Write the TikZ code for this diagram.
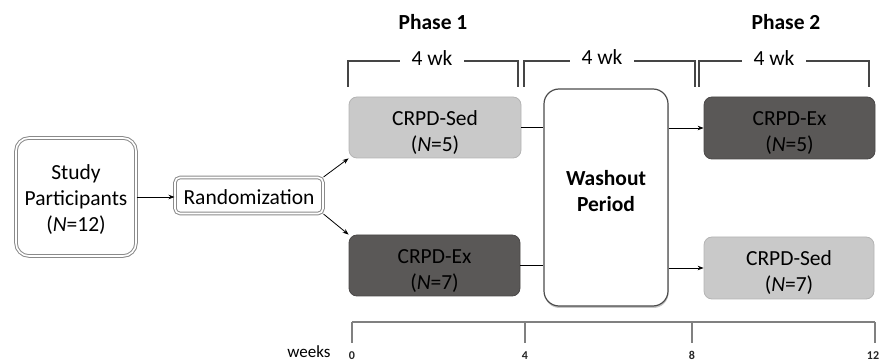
\documentclass[tikz,border=0pt]{standalone}
\usepackage{fontspec}
\setmainfont{Carlito}
\usetikzlibrary{arrows.meta,shadows}
\definecolor{lightbox}{HTML}{C9C9C9}
\definecolor{lightedge}{HTML}{B4B4B4}
\definecolor{darkbox}{HTML}{5A5857}
\definecolor{darkedge}{HTML}{4A4848}
\definecolor{frame}{HTML}{8A8A8A}
\definecolor{brk}{HTML}{454545}
\newcommand{\topstr}{\rule{0pt}{24pt}}
\newcommand{\botstr}{\rule[-14pt]{0pt}{1pt}}
\begin{document}
\begin{tikzpicture}[x=1pt,y=-1pt,
  txt/.style={font=\fontsize{21.5}{26}\selectfont, align=center},
  bevelbox/.style={txt, draw=frame, fill=white, double=white, double distance=1.6pt, line width=1pt,
     rounded corners=#1, inner sep=0pt, drop shadow={shadow xshift=1pt, shadow yshift=-1.5pt, opacity=0.35}},
  lightnode/.style={txt, fill=lightbox, draw=lightedge, line width=0.8pt, rounded corners=8pt, inner sep=0pt},
  darknode/.style={txt, fill=darkbox, draw=darkedge, line width=0.8pt, rounded corners=8pt, inner sep=0pt},
  conn/.style={line width=0.8pt, black},
  arr/.style={conn, -{Stealth[length=6pt,width=4.5pt]}},
  bracket/.style={draw=brk, line width=1.2pt},
  wklabel/.style={txt, fill=white, inner xsep=12pt, inner ysep=0pt},
  axis/.style={draw=gray, line width=1.1pt},
  ticklabel/.style={font=\fontsize{12}{14}\selectfont\bfseries, text=black!85}
]
\useasboundingbox (0,0) rectangle (886,363);

% main boxes
\node[bevelbox=13pt, minimum width=120pt, minimum height=118pt] (study) at (76,197)
  {\rule{0pt}{20pt}Study\\Participants\\(\textit{N}=12)};
\node[bevelbox=5pt, minimum width=148pt, minimum height=36pt] (rand) at (249,195.5) {\rule{0pt}{18pt}Randomization};

\node[lightnode, minimum width=172pt, minimum height=61pt] (sedA) at (435,127.5) {\topstr CRPD-Sed\\(\textit{N}=5)};
\node[darknode, minimum width=171pt, minimum height=61pt] (exA) at (434.5,265.5) {\topstr CRPD-Ex\\(\textit{N}=7)};

\node[txt, draw=black!70, line width=1.2pt, fill=white, rounded corners=15pt, minimum width=124pt, minimum height=217pt,
  font=\fontsize{21.5}{26}\selectfont\bfseries, drop shadow={shadow xshift=0.5pt, shadow yshift=-2pt, opacity=0.45}]
  (wash) at (606,197.5) {Washout\\Period\botstr};

\node[darknode, minimum width=171pt, minimum height=62pt] (exB) at (789.5,128) {\topstr CRPD-Ex\\(\textit{N}=5)};
\node[lightnode, minimum width=170pt, minimum height=62pt] (sedB) at (789,268) {\topstr CRPD-Sed\\(\textit{N}=7)};

% connectors
\draw[arr] (study.east |- 0,197) -- (rand.west |- 0,197);
\draw[arr] (rand.north east) -- (sedA.south west);
\draw[arr] (rand.south east) -- (exA.north west);
\draw[conn] (sedA.east) -- (wash.west |- sedA.east);
\draw[conn] (exA.east) -- (wash.west |- exA.east);
\draw[arr] (wash.east |- exB.west) -- (exB.west);
\draw[arr] (wash.east |- sedB.west) -- (sedB.west);

% phase titles
\node[font=\fontsize{21.5}{26}\selectfont\bfseries] (ph1) at (433,22) {Phase 1};
\node[font=\fontsize{21.5}{26}\selectfont\bfseries] (ph2) at (786,22) {Phase 2};

% brackets
\coordinate (b1a) at (348,87); \coordinate (b1b) at (518,87);
\coordinate (b2a) at (524,87); \coordinate (b2b) at (695,87);
\coordinate (b3a) at (699,87); \coordinate (b3b) at (869,87);
\draw[bracket] (b1a) -- ++(0,-26) -| (b1b);
\draw[bracket] (b2a) -- ++(0,-26) -| (b2b);
\draw[bracket] (b3a) -- ++(0,-26) -| (b3b);
\node[wklabel] (w1) at (432,58) {4 wk};
\node[wklabel] (w2) at (602,57) {4 wk};
\node[wklabel] (w3) at (774,58) {4 wk};

% axis
\coordinate (t0) at (352,322); \coordinate (t4) at (525,322);
\coordinate (t8) at (692,322); \coordinate (t12) at (875,322);
\draw[axis] (t0) -- (t12);
\foreach \t in {t0,t4,t8,t12} \draw[axis] (\t) -- ++(0,21);
\node[ticklabel] (l0) at (352,355.5) {0};
\node[ticklabel] (l4) at (525,355.5) {4};
\node[ticklabel] (l8) at (692,355.5) {8};
\node[ticklabel] (l12) at (873,355.5) {12};
\node[font=\fontsize{17}{19}\selectfont, anchor=east] (weeks) at (334,352) {weeks};
\end{tikzpicture}
\end{document}
